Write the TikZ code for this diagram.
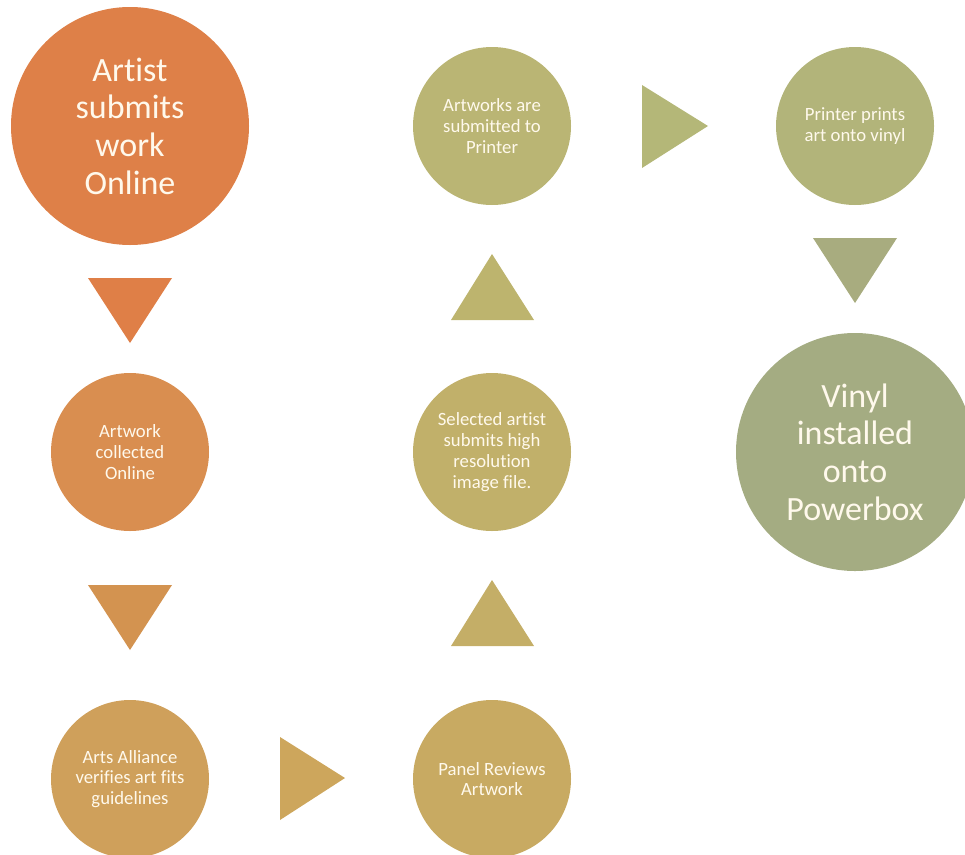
\documentclass[tikz,border=0pt]{standalone}
\usepackage{fontspec}
\setmainfont[Ligatures=NoCommon]{Carlito}
\definecolor{c1}{HTML}{DE8048}
\definecolor{t1}{HTML}{DF7F47}
\definecolor{c2}{HTML}{D98E50}
\definecolor{t2}{HTML}{D39350}
\definecolor{c3}{HTML}{CFA05B}
\definecolor{t3}{HTML}{CDA65C}
\definecolor{c4}{HTML}{C8AA62}
\definecolor{t4}{HTML}{C4AE67}
\definecolor{c5}{HTML}{C1B06A}
\definecolor{t5}{HTML}{BDB46E}
\definecolor{c6}{HTML}{BAB574}
\definecolor{t6}{HTML}{B4B778}
\definecolor{c7}{HTML}{B2B47A}
\definecolor{t7}{HTML}{A8AC7F}
\definecolor{c8}{HTML}{A4AC82}
\definecolor{txt}{HTML}{FFF9EC}
\begin{document}
\begin{tikzpicture}[x=1pt,y=-1pt,
  bigc/.style={circle,minimum size=238pt,inner sep=0pt,text=txt,align=center,
    font=\fontsize{34}{37.7}\selectfont},
  smallc/.style={circle,minimum size=158pt,inner sep=0pt,text=txt,align=center,
    font=\fontsize{18.7}{20.8}\selectfont}]
\useasboundingbox (0,0) rectangle (965,854);
\clip (0,0) rectangle (965,854);
\node[bigc,fill=c1] (n1) at (130,126) {Artist\\submits\\work\\Online};
\node[smallc,fill=c2] (n2) at (130,452) {Artwork\\collected\\Online};
\node[smallc,fill=c3] (n3) at (130,779) {Arts Alliance\\verifies art fits\\guidelines};
\node[smallc,fill=c4] (n4) at (492,779) {Panel Reviews\\Artwork};
\node[smallc,fill=c5] (n5) at (492,452) {Selected artist\\submits high\\resolution\\image file.};
\node[smallc,fill=c6] (n6) at (492,126) {Artworks are\\submitted to\\Printer};
\node[smallc,fill=c7] (n7) at (855,126) {Printer prints\\art onto vinyl};
\node[bigc,fill=c8] (n8) at (855,452) {Vinyl\\installed\\onto\\Powerbox};
% arrow triangles
\fill[t1] (88,278) -- (172,278) -- (130,343) -- cycle;
\fill[t2] (88,585) -- (172,585) -- (130,650) -- cycle;
\fill[t3] (280,737) -- (280,820) -- (345,778) -- cycle;
\fill[t4] (451,646) -- (534,646) -- (492,580) -- cycle;
\fill[t5] (451,320) -- (534,320) -- (492,254) -- cycle;
\fill[t6] (642,85) -- (642,168) -- (708,126) -- cycle;
\fill[t7] (813,238) -- (897,238) -- (855,303) -- cycle;
\end{tikzpicture}
\end{document}
